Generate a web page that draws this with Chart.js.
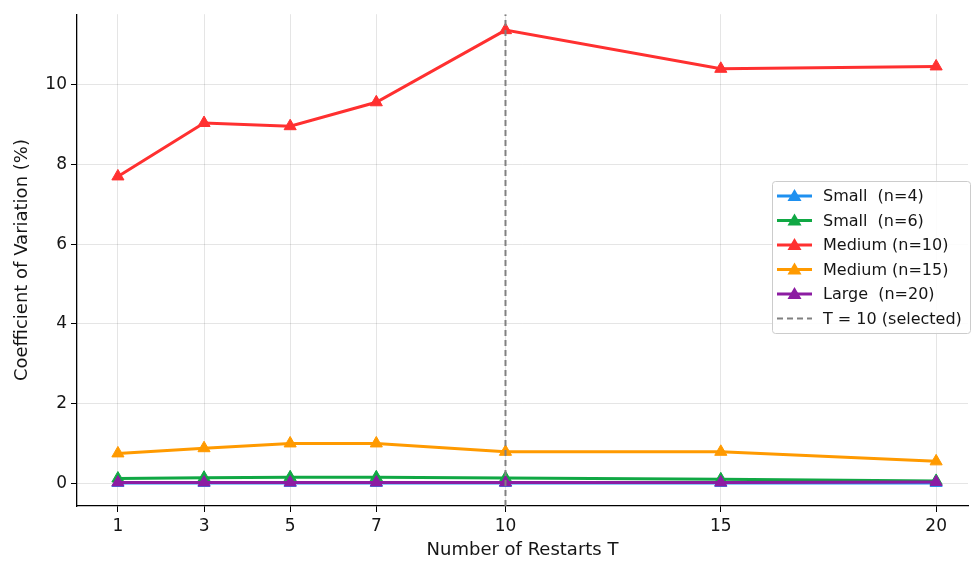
<!DOCTYPE html>
<html>
<head>
<meta charset="utf-8">
<script src="https://cdn.jsdelivr.net/npm/chart.js@4"></script>
<style>
  html, body { margin: 0; padding: 0; background: #fff; }
  #wrap { width: 976px; height: 565px; }
</style>
</head>
<body>
<div id="wrap"><canvas id="chart"></canvas></div>
<script>
// restart counts on the x axis
const restarts = [1, 3, 5, 7, 10, 15, 20];
const yTicks = [0, 2, 4, 6, 8, 10];

// coefficient of variation (%) per problem size
const small4 = [0.01, 0.01, 0.01, 0.01, 0.01, 0.01, 0.01];
const small6 = [0.12, 0.14, 0.15, 0.15, 0.13, 0.10, 0.06];
const medium10 = [7.70, 9.04, 8.96, 9.56, 11.37, 10.40, 10.46];
const medium15 = [0.75, 0.88, 1.00, 1.00, 0.79, 0.79, 0.55];
const large20 = [0.02, 0.02, 0.02, 0.02, 0.02, 0.02, 0.03];

const selectedT = 10;
const xRange = [0.05, 20.74];
const yRange = [-0.57, 11.77];

const series = [
    { label: 'Small  (n=4)', data: small4, color: '#1e90f0' },
    { label: 'Small  (n=6)', data: small6, color: '#10a844' },
    { label: 'Medium (n=10)', data: medium10, color: '#ff3030' },
    { label: 'Medium (n=15)', data: medium15, color: '#ff9a00' },
    { label: 'Large  (n=20)', data: large20, color: '#8c1ca2' },
];

const FONT = 'DejaVu Sans';
const TEXT = '#151515';

const datasets = series.map((s, i) => ({
    label: s.label,
    data: restarts.map((x, j) => ({ x: x, y: s.data[j] })),
    borderColor: s.color,
    backgroundColor: s.color,
    borderWidth: 3,
    pointStyle: 'triangle',
    pointRadius: 7,
    pointBorderWidth: 1,
    tension: 0,
    order: 10 - i,
}));

// dashed marker for the chosen T
datasets.push({
    label: 'T = ' + selectedT + ' (selected)',
    data: [{ x: selectedT, y: yRange[0] }, { x: selectedT, y: yRange[1] }],
    borderColor: '#808080',
    borderWidth: 2,
    borderDash: [6, 4],
    pointRadius: 0,
    order: 1,
    isVline: true,
});

// matplotlib style legend box
const boxLegend = {
    id: 'boxLegend',
    afterDraw(chart) {
        const ctx = chart.ctx;
        const x0 = 772, y0 = 181, w = 198, h = 152;
        ctx.save();
        ctx.fillStyle = 'rgba(255,255,255,0.85)';
        ctx.strokeStyle = '#cccccc';
        ctx.lineWidth = 1;
        ctx.beginPath();
        ctx.roundRect(x0 + 0.5, y0 + 0.5, w, h, 3);
        ctx.fill();
        ctx.stroke();

        ctx.font = '16px "' + FONT + '"';
        ctx.textBaseline = 'middle';
        chart.data.datasets.forEach((ds, i) => {
            const cy = 196 + i * 24.5;
            ctx.strokeStyle = ds.borderColor;
            ctx.lineWidth = ds.isVline ? 2 : 3;
            ctx.setLineDash(ds.isVline ? [6, 4] : []);
            ctx.beginPath();
            ctx.moveTo(777, cy);
            ctx.lineTo(812, cy);
            ctx.stroke();
            ctx.setLineDash([]);
            if (!ds.isVline) {
                ctx.fillStyle = ds.backgroundColor;
                ctx.beginPath();
                ctx.moveTo(794.5, cy - 7);
                ctx.lineTo(801.5, cy + 5);
                ctx.lineTo(787.5, cy + 5);
                ctx.closePath();
                ctx.fill();
            }
            ctx.fillStyle = TEXT;
            ctx.fillText(ds.label, 823, cy + 1);
        });
        ctx.restore();
    }
};

new Chart(document.getElementById('chart').getContext('2d'), {
    type: 'line',
    data: { datasets: datasets },
    options: {
        responsive: true,
        maintainAspectRatio: false,
        animation: false,
        layout: { padding: { top: 3, right: 0, left: 0, bottom: 0 } },
        plugins: {
            legend: { display: false },
            tooltip: { enabled: false },
        },
        scales: {
            x: {
                type: 'linear',
                min: xRange[0],
                max: xRange[1],
                afterBuildTicks: s => { s.ticks = restarts.map(v => ({ value: v })); },
                afterFit: s => { s.height = 59; },
                grid: { color: 'rgba(0,0,0,0.1)', tickColor: '#000', tickLength: 6 },
                border: { color: '#000', width: 1.3 },
                ticks: { color: TEXT, font: { family: FONT, size: 17 }, padding: 4, maxRotation: 0 },
                title: { display: true, text: 'Number of Restarts T', color: TEXT, font: { family: FONT, size: 18 }, padding: { top: 3 } },
            },
            y: {
                min: yRange[0],
                max: yRange[1],
                afterBuildTicks: s => { s.ticks = yTicks.map(v => ({ value: v })); },
                afterFit: s => { s.width = 77; },
                grid: { color: 'rgba(0,0,0,0.1)', tickColor: '#000', tickLength: 6 },
                border: { color: '#000', width: 1.3 },
                ticks: { color: TEXT, font: { family: FONT, size: 17 }, padding: 4 },
                title: { display: true, text: 'Coefficient of Variation (%)', color: TEXT, font: { family: FONT, size: 18 }, padding: { top: 12, bottom: 0 } },
            },
        },
    },
    plugins: [boxLegend],
});
</script>
</body>
</html>
